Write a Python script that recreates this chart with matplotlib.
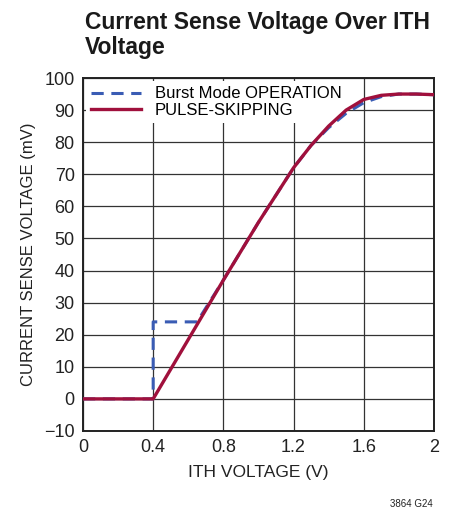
import matplotlib.pyplot as plt
import numpy as np

plt.rcParams['font.family'] = ['Liberation Sans Narrow', 'Liberation Sans', 'DejaVu Sans']

# pulse-skipping curve
ith_pulse = [0, 0.4, 0.8, 1.0, 1.2, 1.3, 1.4, 1.5, 1.6, 1.7, 1.8, 1.9, 2.0]
vs_pulse = [0, 0, 37, 55, 72, 79, 85, 90, 93.3, 94.6, 95, 95, 94.8]

# burst mode curve
ith_burst = [0, 0.4, 0.4, 0.65, 0.8, 1.0, 1.2, 1.3, 1.4, 1.5, 1.6, 1.7, 1.8, 1.9, 2.0]
vs_burst = [0, 0, 24, 24, 37, 55, 72, 79, 84.5, 89, 92.3, 94.2, 95, 95, 94.8]

xticks = [0, 0.4, 0.8, 1.2, 1.6, 2]
xtick_labels = ['0', '0.4', '0.8', '1.2', '1.6', '2']
yticks = np.arange(-10, 101, 10)

fig = plt.figure(figsize=(4.65, 5.19), dpi=100)
ax = fig.add_axes([0.1785, 0.1696, 0.7545, 0.6801])

ax.plot(ith_burst, vs_burst, color='#3a5cb4', linestyle=(0, (4, 2.5)), linewidth=2.2,
        label='Burst Mode OPERATION', zorder=3)
ax.plot(ith_pulse, vs_pulse, color='#a0103c', linewidth=2.4,
        label='PULSE-SKIPPING', zorder=4)

ax.set_xlim(0, 2)
ax.set_ylim(-10, 100)
ax.set_xticks(xticks)
ax.set_xticklabels(xtick_labels)
ax.set_yticks(yticks)
ax.grid(True, color='#333333', linewidth=0.9)
ax.tick_params(length=0, labelsize=13, pad=6, colors='#222222')
for s in ax.spines.values():
    s.set_linewidth(1.4)
    s.set_color('#222222')

ax.set_xlabel('ITH VOLTAGE (V)', fontsize=12.5, color='#222222', labelpad=6)
ax.set_ylabel('CURRENT SENSE VOLTAGE (mV)', fontsize=12, color='#222222', labelpad=6)

leg = ax.legend(loc='upper left', frameon=True, fontsize=12, handlelength=3.0,
                borderaxespad=0.2, labelspacing=0.1, facecolor='white', edgecolor='none',
                framealpha=1, borderpad=0.3)
leg.set_zorder(2.5)

fig.text(0.183, 0.978, 'Current Sense Voltage Over ITH\nVoltage', fontsize=16.5,
         fontweight='bold', va='top', ha='left', color='#1a1a1a', linespacing=1.1)
fig.text(0.93, 0.02, '3864 G24', fontsize=7, ha='right', va='bottom', color='#222222')

fig.savefig('out.png', dpi=100)
